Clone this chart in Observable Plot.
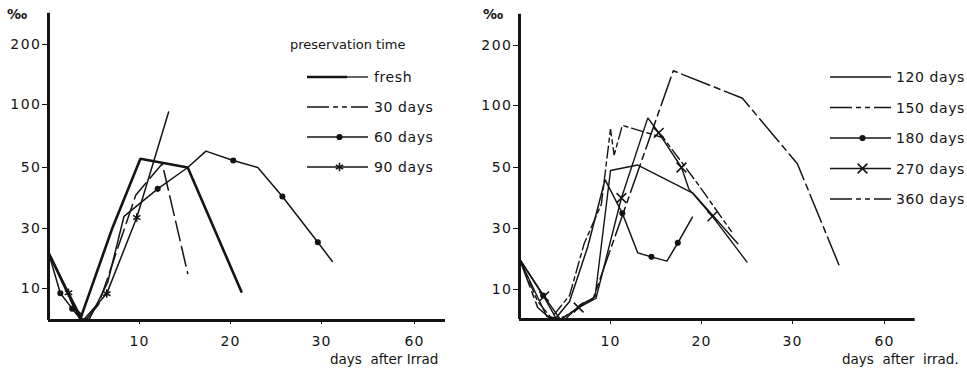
<!DOCTYPE html>
<html>
<head>
<meta charset="utf-8">
<script src="https://cdn.jsdelivr.net/npm/d3@7"></script>
<script src="https://cdn.jsdelivr.net/npm/@observablehq/plot@0.6"></script>
<style>
  html, body { margin: 0; padding: 0; background: #fff; }
  #chart { position: relative; width: 967px; height: 370px; overflow: hidden; font-family: "DejaVu Sans", sans-serif; }
  #chart > svg { position: absolute; top: 0; overflow: visible; }
</style>
</head>
<body>
<div id="chart"></div>
<script>
// Axis ticks (‰ on y, days after irradiation on x)
const yTicks = [10, 30, 50, 100, 200];
const xTicks = [10, 20, 30, 60];

// Left panel: [day, ‰] per preservation time
const fresh   = [[0, 22], [3.5, 0.5], [7, 30], [10.1, 57], [15.3, 50], [21.2, 9]];
const days30  = [[0, 22], [2.8, 4], [4.2, 0.5], [5.5, 5], [7, 18], [9.6, 41], [12.5, 53], [15.3, 15]];
const days60  = [[0, 22], [1.3, 8.5], [2.6, 3.7], [3.5, 0.5], [4.5, 0.5], [6.5, 12], [8.3, 34], [12, 43],
                 [15.3, 50], [17.3, 63], [20.3, 55.5], [23, 50], [25.7, 40.5], [29.6, 25.4], [33.5, 19]];
const days60Dots = [[1.3, 8.5], [2.6, 3.7], [12, 43], [20.3, 55.5], [25.7, 40.5], [29.6, 25.4]];
const days90  = [[0, 22], [2.2, 8.7], [3.8, 0], [6.4, 8.4], [9.7, 33.6], [13.2, 94]];
const days90Marks = [[2.2, 8.7], [6.4, 8.4], [9.7, 33.6]];

// Right panel: [day, ‰] per preservation time
const days120 = [[0, 20], [3, 1], [5, 0], [6.7, 5], [8.3, 7.5], [10, 49], [13, 52], [19.1, 41.5], [24, 25]];
const days150 = [[0, 20], [2, 6], [3.5, 0.5], [5.5, 8], [7.1, 25], [9, 38], [10, 81], [10.4, 60], [11.3, 84],
                 [15.8, 74], [19.5, 45], [23.3, 29]];
const days180 = [[0, 20], [2.6, 8], [4, 0.5], [5.5, 6], [7.5, 24], [9.4, 46], [11.3, 35], [13, 22],
                 [14.5, 20.7], [16.2, 19.3], [17.4, 25.3], [19, 33.7]];
const days180Dots = [[2.6, 8], [11.3, 35], [14.5, 20.7], [17.4, 25.3]];
const days270 = [[0, 20], [2.7, 7.7], [4.5, 0], [6.5, 4], [8.4, 7], [11.2, 40], [14.1, 90], [15.3, 78],
                 [17.8, 50], [18.6, 43], [21.2, 34], [25, 19]];
const days270Marks = [[2.7, 7.7], [6.5, 4], [11.2, 40], [15.3, 78], [17.8, 50], [21.2, 34]];
const days360 = [[0, 20], [2, 4], [3.5, 0], [5, 1], [8.1, 7], [16.9, 158], [24.5, 112], [31.6, 53], [45.7, 16.7]];

const leftTitle = "preservation time";
const leftNames = ["fresh", "30 days", "60 days", "90 days"];
const rightNames = ["120 days", "150 days", "180 days", "270 days", "360 days"];
const xLabels = ["days  after Irrad", "days  after  irrad."];
const unitLabel = "‰";

// ---- drawing ----
const ink = "#141414";
const styles = {
  "fresh":    {width: 2.6},
  "30 days":  {width: 1.5, dash: "20,6"},
  "60 days":  {width: 1.5, symbol: "circle", r: 2.3},
  "90 days":  {width: 1.5, symbol: "asterisk", r: 4},
  "120 days": {width: 1.4},
  "150 days": {width: 1.4, dash: "12,4,4,4"},
  "180 days": {width: 1.5, symbol: "circle", r: 2.3},
  "270 days": {width: 1.4, symbol: "times", r: 4.5},
  "360 days": {width: 1.5, dash: "30,5,6,5"}
};

const Y_TOP = 252;   // upper end of the ‰ axis line
const X_END = 70;    // right end of the day axis line

function panel(series, {width, marginLeft, xRange, yRange}) {
  const marks = [
    Plot.ruleX([0], {y1: 0, y2: Y_TOP, stroke: ink, strokeWidth: 3}),
    Plot.ruleY([0], {x1: 0, x2: X_END, stroke: ink, strokeWidth: 3})
  ];
  for (const {name, points, markers} of series) {
    const s = styles[name];
    marks.push(Plot.line(points, {
      x: d => d[0], y: d => d[1], stroke: ink, strokeWidth: s.width,
      strokeDasharray: s.dash, strokeLinejoin: "miter", curve: "linear"
    }));
    if (markers) {
      const filled = s.symbol === "circle";
      marks.push(Plot.dot(markers, {
        x: d => d[0], y: d => d[1], symbol: s.symbol, r: s.r,
        fill: filled ? ink : "none", stroke: ink, strokeWidth: 1.5
      }));
    }
  }
  const svg = Plot.plot({
    width, height: 370,
    marginLeft, marginRight: 20, marginTop: 13, marginBottom: 50,
    style: {fontFamily: "DejaVu Sans, sans-serif", fontSize: "14px", color: ink, background: "transparent", overflow: "visible"},
    x: {type: "linear", domain: [0, 30, 60], range: xRange, ticks: xTicks, tickSize: 4, tickPadding: 12, label: null},
    y: {type: "linear", domain: [0, 10, 30, 50, 100, 200], range: yRange, ticks: yTicks, tickSize: 6, tickPadding: 1, label: null},
    marks
  });
  d3.select(svg).selectAll('g[aria-label="y-axis tick label"] text').style("letter-spacing", "1.5px");
  d3.select(svg).selectAll('g[aria-label="x-axis tick label"] text').style("letter-spacing", "1px");
  return svg;
}

const chart = document.getElementById("chart");

const left = panel([
  {name: "fresh", points: fresh},
  {name: "30 days", points: days30},
  {name: "60 days", points: days60, markers: days60Dots},
  {name: "90 days", points: days90, markers: days90Marks}
], {width: 470, marginLeft: 48, xRange: [48, 321, 414], yRange: [320, 288, 228, 167, 104, 44]});
left.style.left = "0px";
chart.appendChild(left);

const right = panel([
  {name: "120 days", points: days120},
  {name: "150 days", points: days150},
  {name: "180 days", points: days180, markers: days180Dots},
  {name: "270 days", points: days270, markers: days270Marks},
  {name: "360 days", points: days360}
], {width: 497, marginLeft: 49, xRange: [49, 322, 414], yRange: [319, 289, 228, 167, 105, 45]});
right.style.left = "470px";
chart.appendChild(right);

// Legends, unit marks and axis titles
const over = d3.select(chart).append("svg")
  .attr("width", 967).attr("height", 370)
  .style("left", "0px")
  .attr("font-family", "DejaVu Sans, sans-serif")
  .attr("fill", ink);

function legend(names, x0, x1, tx, y0, step) {
  names.forEach((name, i) => {
    const s = styles[name];
    const y = y0 + i * step;
    const g = over.append("g");
    if (name === "fresh") {
      g.append("line").attr("x1", x0).attr("x2", x0 + 40).attr("y1", y).attr("y2", y)
        .attr("stroke", ink).attr("stroke-width", s.width);
      g.append("line").attr("x1", x0 + 40).attr("x2", x1).attr("y1", y).attr("y2", y)
        .attr("stroke", ink).attr("stroke-width", 1.3);
    } else {
      g.append("line").attr("x1", x0).attr("x2", x1).attr("y1", y).attr("y2", y)
        .attr("stroke", ink).attr("stroke-width", s.width)
        .attr("stroke-dasharray", s.dash ? "22,4,5,4,5,4" : null);
    }
    if (s.symbol) {
      const sym = {circle: d3.symbolCircle, asterisk: d3.symbolAsterisk, times: d3.symbolTimes}[s.symbol];
      g.append("path")
        .attr("transform", `translate(${(x0 + x1) / 2 + 2},${y})`)
        .attr("d", d3.symbol(sym, Math.PI * s.r * s.r)())
        .attr("fill", s.symbol === "circle" ? ink : "none")
        .attr("stroke", ink).attr("stroke-width", 1.6);
    }
    g.append("text").attr("x", tx).attr("y", y).attr("dy", "0.36em")
      .attr("font-size", 14).attr("letter-spacing", "0.6px").text(name);
  });
}

over.append("text").attr("x", 290).attr("y", 44).attr("dy", "0.36em")
  .attr("font-size", 13).text(leftTitle);
legend(leftNames, 307, 368, 374, 77, 30);
legend(rightNames, 830, 891, 896, 77, 30.5);

over.append("text").attr("x", 7).attr("y", 19).attr("font-size", 14).attr("font-weight", "bold").text(unitLabel);
over.append("text").attr("x", 483).attr("y", 19).attr("font-size", 14).attr("font-weight", "bold").text(unitLabel);
over.append("text").attr("x", 330).attr("y", 364).attr("font-size", 13.5).attr("xml:space", "preserve").style("white-space", "pre").text(xLabels[0]);
over.append("text").attr("x", 842).attr("y", 364).attr("font-size", 13.5).attr("xml:space", "preserve").style("white-space", "pre").text(xLabels[1]);
</script>
</body>
</html>
